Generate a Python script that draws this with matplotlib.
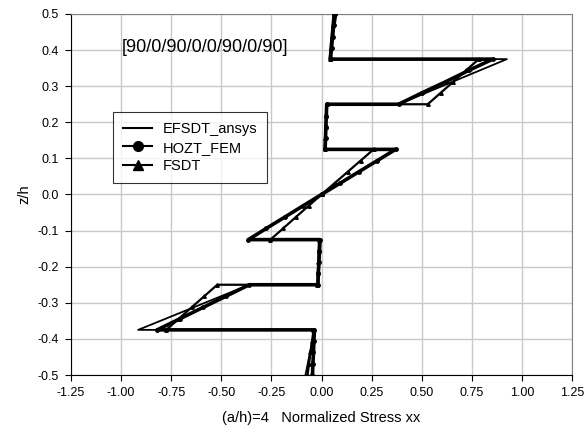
import matplotlib
matplotlib.use("Agg")
import matplotlib.pyplot as plt
from matplotlib.lines import Line2D

plt.rcParams['font.family'] = ['Liberation Sans', 'DejaVu Sans']

# z/h positions (5 per layer, 8 layers, bottom to top)
z_pts = [-0.5, -0.46875, -0.4375, -0.40625, -0.375,
         -0.375, -0.34375, -0.3125, -0.28125, -0.25,
         -0.25, -0.21875, -0.1875, -0.15625, -0.125,
         -0.125, -0.09375, -0.0625, -0.03125, 0.0,
         0.0, 0.03125, 0.0625, 0.09375, 0.125,
         0.125, 0.15625, 0.1875, 0.21875, 0.25,
         0.25, 0.28125, 0.3125, 0.34375, 0.375,
         0.375, 0.40625, 0.4375, 0.46875, 0.5]

hozt_x = [-0.045, -0.043, -0.040, -0.038, -0.035,
          -0.820, -0.705, -0.590, -0.475, -0.360,
          -0.018, -0.016, -0.013, -0.010, -0.008,
          -0.365, -0.275, -0.183, -0.092, 0.000,
          0.000, 0.093, 0.185, 0.278, 0.370,
          0.018, 0.020, 0.022, 0.024, 0.026,
          0.385, 0.500, 0.620, 0.735, 0.855,
          0.045, 0.050, 0.055, 0.060, 0.065]

fsdt_x = [-0.070, -0.062, -0.055, -0.047, -0.040,
          -0.775, -0.711, -0.648, -0.584, -0.520,
          -0.020, -0.018, -0.016, -0.014, -0.012,
          -0.255, -0.191, -0.128, -0.064, 0.000,
          0.000, 0.065, 0.130, 0.195, 0.260,
          0.015, 0.018, 0.020, 0.023, 0.025,
          0.530, 0.594, 0.658, 0.721, 0.785,
          0.040, 0.045, 0.050, 0.055, 0.060]

# EFSDT_ansys (line only)
efsdt_z = [-0.5, -0.375, -0.375, -0.25, -0.25, -0.125, -0.125, 0.0,
           0.125, 0.125, 0.25, 0.25, 0.375, 0.375, 0.5]
efsdt_x = [-0.080, -0.035, -0.915, -0.360, -0.015, -0.005, -0.365, 0.000,
           0.370, 0.020, 0.025, 0.385, 0.925, 0.040, 0.075]

xticks = [-1.25, -1.00, -0.75, -0.50, -0.25, 0.00, 0.25, 0.50, 0.75, 1.00, 1.25]
yticks = [-0.5, -0.4, -0.3, -0.2, -0.1, 0.0, 0.1, 0.2, 0.3, 0.4, 0.5]

fig = plt.figure(figsize=(5.87, 4.41), dpi=100)
ax = fig.add_axes([71/587, 1-375/441, (572-71)/587, (375-14)/441])

ax.plot(efsdt_x, efsdt_z, color='black', lw=1.3, zorder=3)
ax.plot(hozt_x, z_pts, color='black', lw=2.6, marker='o', ms=2.5, zorder=4)
ax.plot(fsdt_x, z_pts, color='black', lw=1.6, marker='^', ms=2.5, zorder=4)

ax.set_xlim(-1.25, 1.25)
ax.set_ylim(-0.5, 0.5)
ax.set_xticks(xticks)
ax.set_xticklabels([f"{v:.2f}" for v in xticks], fontsize=9)
ax.set_yticks(yticks)
ax.set_yticklabels([f"{v:.1f}" for v in yticks], fontsize=9)
ax.tick_params(direction='out', length=4, width=0.8, pad=5)
ax.grid(True, color='#c8c8c8', lw=1.0, zorder=0)
ax.set_axisbelow(True)
for s in ['top', 'right']:
    ax.spines[s].set_color('#808080')
for s in ['left', 'bottom']:
    ax.spines[s].set_color('black')

ax.set_xlabel("(a/h)=4   Normalized Stress xx", fontsize=10.5, labelpad=8)
ax.set_ylabel("z/h", fontsize=10.5, labelpad=4)

ax.text(-0.58, 0.408, "[90/0/90/0/0/90/0/90]", fontsize=13, ha='center', va='center')

handles = [Line2D([], [], color='black', lw=1.5),
           Line2D([], [], color='black', lw=1.5, marker='o', ms=7),
           Line2D([], [], color='black', lw=1.5, marker='^', ms=7)]
leg = ax.legend(handles, ['EFSDT_ansys', 'HOZT_FEM', 'FSDT'],
                loc='upper left', bbox_to_anchor=(42/501, 1-98/361),
                borderaxespad=0,
                fontsize=10.5, frameon=True, fancybox=False, edgecolor='black',
                handlelength=2.0, borderpad=0.7, labelspacing=0.3,
                handletextpad=0.7)
leg.get_frame().set_linewidth(0.8)

fig.savefig("out.png", dpi=100)
